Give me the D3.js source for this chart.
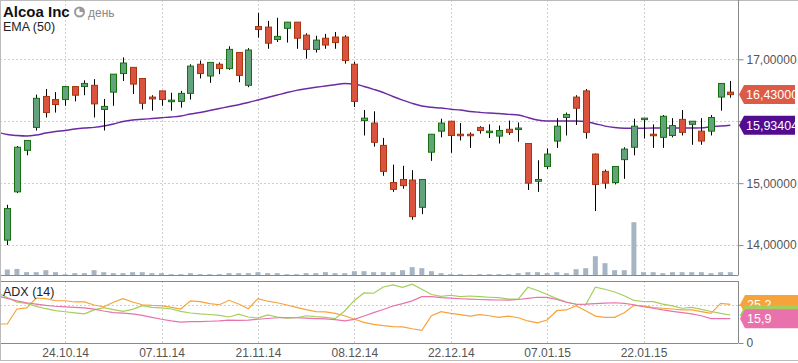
<!DOCTYPE html>
<html>
<head>
<meta charset="utf-8">
<script src="https://cdn.jsdelivr.net/npm/d3@7"></script>
<style>
  body { margin: 0; background: #fff; }
  svg { display: block; font-family: "Liberation Sans", Arial, sans-serif; }
</style>
</head>
<body>
<div id="chart"></div>
<script>
// x-axis labels (trading day index -> date)
const dayLabels = ["24.10.14", "07.11.14", "21.11.14", "08.12.14", "22.12.14", "07.01.15", "22.01.15"];
const dayLabelIdx = [6, 16, 26, 36, 46, 56, 66];

// daily candles, 16.10.14 .. 04.02.15
const open = [14.08,14.86,15.53,15.90,16.40,16.35,16.35,16.56,16.56,16.58,
  16.19,16.47,16.77,16.87,16.69,16.39,16.49,16.32,16.32,16.45,
  16.92,16.73,16.92,16.85,17.11,16.58,17.53,17.52,17.32,17.50,
  17.60,17.39,17.16,17.34,17.36,17.36,16.92,16.01,15.97,15.61,
  15.01,15.06,15.05,14.61,15.50,15.84,16.00,15.79,15.79,15.90,
  15.82,15.76,15.87,15.87,15.64,15.03,15.27,15.68,16.06,16.39,
  16.49,15.47,15.19,15.01,15.38,15.58,16.03,15.79,15.74,15.77,
  16.03,15.95,15.84,15.84,16.39,16.47];
const high = [14.65,15.60,15.69,16.43,16.52,16.47,16.56,16.56,16.66,16.68,
  16.36,16.76,17.03,16.87,16.69,16.42,16.49,16.46,16.49,16.92,
  16.98,16.95,16.95,17.21,17.11,17.18,17.75,17.62,17.67,17.60,
  17.60,17.42,17.38,17.41,17.44,17.39,16.96,16.18,16.16,15.73,
  15.30,15.28,15.21,15.06,15.79,16.04,16.00,15.97,15.82,15.92,
  15.95,15.93,16.01,15.98,15.64,15.37,15.56,16.05,16.14,16.42,
  16.52,15.48,15.22,15.27,15.58,16.04,16.05,15.95,16.10,16.05,
  16.18,16.00,16.05,16.10,16.61,16.65];
const low = [14.00,14.84,15.45,15.85,16.06,16.14,16.25,16.32,16.42,16.06,
  15.85,16.25,16.65,16.44,16.19,16.17,16.25,16.17,16.22,16.35,
  16.69,16.62,16.76,16.83,16.63,16.55,17.35,17.17,17.28,17.27,
  17.17,17.01,17.11,17.17,17.17,16.93,16.23,15.77,15.59,15.12,
  14.86,14.91,14.41,14.50,15.36,15.74,15.49,15.69,15.57,15.80,
  15.73,15.64,15.78,15.67,14.89,14.86,15.23,15.57,15.77,15.94,
  15.72,14.55,14.91,14.98,15.07,15.45,15.72,15.57,15.57,15.74,
  15.77,15.62,15.62,15.77,16.17,16.38];
const close = [14.59,15.58,15.69,16.37,16.14,16.27,16.56,16.42,16.61,16.28,
  16.24,16.76,16.94,16.60,16.29,16.36,16.35,16.34,16.45,16.89,
  16.77,16.95,16.85,17.16,16.74,17.15,17.48,17.26,17.37,17.60,
  17.34,17.16,17.31,17.23,17.27,16.98,16.32,16.05,15.66,15.19,
  14.90,14.96,14.46,15.06,15.79,15.97,15.77,15.77,15.77,15.85,
  15.84,15.85,15.82,15.89,15.00,15.06,15.47,15.92,16.11,16.21,
  15.82,14.98,15.00,15.27,15.55,15.92,16.05,15.77,16.08,15.93,
  15.82,16.00,15.68,16.06,16.61,16.43];
const volume = [15,16.5,8.3,8.3,13.3,8.3,3.3,5.8,5.8,13.3,
  8.3,5.8,5.8,8.3,8.3,5.8,5.8,3.3,3.3,5.8,
  3.3,3.3,3.3,5.8,5.8,5.8,8.3,5.8,5.8,3.3,
  3.3,5.8,5.8,8.3,5.8,5.8,10.8,10.8,8.3,8.3,
  8.3,13.3,20.8,18.3,10.8,5.8,3.3,3.3,2,3.3,
  3.3,3.3,3.3,5.8,8.3,8.3,5.8,8.3,5.8,15.8,
  18.3,48.3,30.8,13.3,13.3,133.3,8.3,8.3,5.8,8.3,
  8.3,8.3,8.3,5.8,8.3,8.3];

// indicator lines start one day earlier (15.10.14), cut at the left edge
const ema50 = [15.822, 15.785,15.769,15.761,15.777,15.809,15.834,15.85,15.874,15.89,15.901,
  15.922,15.955,15.995,16.019,16.031,16.044,16.057,16.068,16.084,16.116,
  16.141,16.173,16.205,16.237,16.267,16.302,16.342,16.383,16.423,16.464,
  16.499,16.525,16.548,16.569,16.59,16.609,16.601,16.561,16.515,16.464,
  16.399,16.342,16.289,16.246,16.225,16.213,16.194,16.181,16.158,16.144,
  16.132,16.124,16.111,16.10,16.06,16.019,16.003,16.003,16.003,16.003,
  15.995,15.96,15.922,15.898,15.887,15.886,15.887,15.89,15.89,15.89,
  15.89,15.89,15.893,15.91,15.922,15.93404];
const diPlus = [12.4, 12.4,22.2,22.9,29.4,29.0,27.6,27.6,26.8,26.8,24.8,
  23.7,26.6,29.0,26.8,25.0,24.6,24.4,23.3,22.2,27.5,
  27.0,25.7,25.0,27.9,25.5,22.4,29.0,27.3,26.3,24.8,
  23.3,21.8,20.5,20.3,19.4,17.8,15.5,13.5,12.2,11.3,
  10.7,10.5,9.3,8.3,17.8,20.5,19.4,18.5,17.6,18.5,
  17.8,16.8,17.6,16.5,14.4,13.1,15.0,21.1,21.6,24.4,
  21.1,17.6,16.8,16.8,19.8,24.6,24.2,23.1,22.7,22.2,
  21.6,21.6,20.5,19.4,25.9,25.2];
const diMinus = [32.7, 29.7,26.6,25.9,23.9,22.4,21.2,20.4,19.7,19.0,21.6,
  23.1,21.8,20.7,22.0,24.4,23.3,22.9,22.2,20.7,19.6,
  19.0,18.6,18.0,17.0,18.8,17.0,16.3,18.3,17.0,16.3,
  16.5,17.8,17.2,16.8,15.9,20.9,27.8,32.7,32.5,36.6,
  37.9,36.3,38.4,35.1,31.7,30.4,31.2,30.3,30.7,30.3,
  29.9,29.6,28.6,28.6,36.4,34.3,31.7,29.0,26.8,25.3,
  25.0,36.4,35.1,33.3,30.9,27.8,27.1,27.0,25.4,24.2,
  22.7,23.3,22.0,20.6,19.3,18.3];
const adx = [30.7, 29.1,27.5,26.3,25.4,24.6,24.0,23.6,23.3,22.9,22.1,
  20.9,19.9,19.5,19.0,18.0,16.7,15.5,14.5,13.7,13.9,
  13.9,14.2,14.4,15.0,14.8,14.9,15.5,16.0,16.5,16.5,
  16.5,16.2,15.9,15.7,15.3,14.4,15.4,17.6,19.8,21.9,
  24.2,25.7,27.5,30.3,30.3,29.7,29.3,28.9,28.6,28.4,
  28.2,28.1,28.0,28.4,29.2,29.9,29.8,28.4,26.6,25.3,
  25.4,25.7,26.1,26.3,25.9,25.0,23.7,22.7,21.6,20.7,
  19.8,19.0,17.8,15.9,15.9,15.9];

const priceTicks = [14, 15, 16, 17];
const adxTicks = [0, 25];
// tick labels that sit under the value tags are not shown
const hiddenPriceLabels = [16];
const hiddenAdxLabels = [25];

const width = 798;
const height = 363;
const plotRight = 738;
const main = { top: 0, bottom: 275.5 };
const sub = { top: 281, bottom: 343 };

const svg = d3.select("#chart").append("svg")
  .attr("width", width)
  .attr("height", height);

const x = d3.scaleLinear().domain([0, 75]).range([7.3, 730.3]);
const y = d3.scaleLinear().domain([14, 17]).range([245.1, 59.3]);
const yVol = d3.scaleLinear().domain([0, d3.max(volume)]).range([main.bottom, 222.2]);
const yAdx = d3.scaleLinear().domain([0, 40.5]).range([sub.bottom, sub.top]);

const comma = v => String(v).replace(".", ",");

// clip paths
const defs = svg.append("defs");
defs.append("clipPath").attr("id", "clipMain")
  .append("rect").attr("x", 0).attr("y", main.top).attr("width", plotRight).attr("height", main.bottom - main.top);
defs.append("clipPath").attr("id", "clipSub")
  .append("rect").attr("x", 0).attr("y", sub.top).attr("width", plotRight).attr("height", sub.bottom - sub.top);

// grid
const grid = svg.append("g").attr("stroke", "#cfcfcf").attr("stroke-dasharray", "2,2").attr("stroke-width", 1);
dayLabelIdx.forEach(i => {
  const gx = Math.round(x(i)) + 0.5;
  grid.append("line").attr("x1", gx).attr("x2", gx).attr("y1", main.top).attr("y2", main.bottom);
  grid.append("line").attr("x1", gx).attr("x2", gx).attr("y1", sub.top).attr("y2", sub.bottom);
});
priceTicks.forEach(p => {
  const gy = Math.round(y(p)) + 0.5;
  grid.append("line").attr("x1", 0).attr("x2", plotRight).attr("y1", gy).attr("y2", gy);
});
adxTicks.filter(v => v > 0).forEach(v => {
  const gy = Math.round(yAdx(v)) + 0.5;
  grid.append("line").attr("x1", 0).attr("x2", plotRight).attr("y1", gy).attr("y2", gy);
});

// volume
svg.append("g").selectAll("rect")
  .data(volume)
  .join("rect")
  .attr("x", (d, i) => x(i) - 2.5)
  .attr("y", d => yVol(d))
  .attr("width", 5)
  .attr("height", d => main.bottom - yVol(d))
  .attr("fill", "#a5b5c4");

// EMA line
const mainG = svg.append("g").attr("clip-path", "url(#clipMain)");
const emaLine = d3.line().x((d, i) => x(i - 1)).y(d => y(d)).curve(d3.curveMonotoneX);
mainG.append("path")
  .datum(ema50)
  .attr("fill", "none")
  .attr("stroke", "#6b2aa3")
  .attr("stroke-width", 1.4)
  .attr("d", emaLine);

// candles
const candles = d3.range(open.length).map(i => ({ i, o: open[i], h: high[i], l: low[i], c: close[i] }));
const cg = mainG.append("g");
cg.selectAll("line")
  .data(candles)
  .join("line")
  .attr("x1", d => Math.round(x(d.i)) + 0.5)
  .attr("x2", d => Math.round(x(d.i)) + 0.5)
  .attr("y1", d => y(d.h))
  .attr("y2", d => y(d.l))
  .attr("stroke", "#000")
  .attr("stroke-width", 1);
cg.selectAll("rect")
  .data(candles)
  .join("rect")
  .attr("x", d => Math.round(x(d.i)) - 2.5)
  .attr("y", d => y(Math.max(d.o, d.c)))
  .attr("width", 6)
  .attr("height", d => Math.max(Math.abs(y(d.o) - y(d.c)), 1.5))
  .attr("fill", d => d.c >= d.o ? "#62a27c" : "#d9533f")
  .attr("stroke", d => d.c >= d.o ? "#17700f" : "#a8360f")
  .attr("stroke-width", 1);

// ADX panel lines
const subG = svg.append("g").attr("clip-path", "url(#clipSub)");
const adxLine = d3.line().x((d, i) => x(i - 1)).y(d => yAdx(d));
[[diPlus, "#f7a33c"], [diMinus, "#a3cf5a"], [adx, "#e972ad"]].forEach(([series, col]) => {
  subG.append("path")
    .datum(series)
    .attr("fill", "none")
    .attr("stroke", col)
    .attr("stroke-width", 1.2)
    .attr("d", adxLine);
});

// frames
const frame = svg.append("g").attr("stroke", "#888").attr("stroke-width", 1).attr("fill", "none");
frame.append("line").attr("x1", 0).attr("x2", plotRight).attr("y1", main.bottom).attr("y2", main.bottom);
frame.append("line").attr("x1", 0).attr("x2", plotRight).attr("y1", sub.top + 0.5).attr("y2", sub.top + 0.5);
frame.append("line").attr("x1", 0).attr("x2", plotRight).attr("y1", sub.bottom + 0.5).attr("y2", sub.bottom + 0.5);
const outer = svg.append("g").attr("stroke", "#bbb").attr("stroke-width", 1);
outer.append("line").attr("x1", 0).attr("x2", width).attr("y1", 0.5).attr("y2", 0.5);
outer.append("line").attr("x1", 0.5).attr("x2", 0.5).attr("y1", 0).attr("y2", 361);
outer.append("line").attr("x1", 0).attr("x2", width).attr("y1", 360.5).attr("y2", 360.5);

// right axes
function styleAxis(g) {
  g.select(".domain").attr("stroke", "#888");
  g.selectAll(".tick line").attr("stroke", "#888");
  g.selectAll(".tick text").attr("fill", "#555").attr("font-size", "12px")
    .attr("font-family", "\"Liberation Sans\", Arial, sans-serif");
}
svg.append("g")
  .attr("transform", `translate(${plotRight + 0.5},0)`)
  .call(d3.axisRight(y).tickValues(priceTicks).tickSize(5).tickPadding(3)
    .tickFormat(d => hiddenPriceLabels.includes(d) ? "" : comma(d.toFixed(5))))
  .call(g => g.select(".domain").attr("d", `M0,${main.top}V${main.bottom}`))
  .call(styleAxis);
svg.append("g")
  .attr("transform", `translate(${plotRight + 0.5},0)`)
  .call(d3.axisRight(yAdx).tickValues(adxTicks).tickSize(5).tickPadding(3)
    .tickFormat(d => hiddenAdxLabels.includes(d) ? "" : d))
  .call(g => g.select(".domain").attr("d", `M0,${sub.top}V${sub.bottom}`))
  .call(styleAxis);

// date axis
svg.append("g")
  .attr("transform", `translate(0,${sub.bottom})`)
  .call(d3.axisBottom(x).tickValues(dayLabelIdx).tickSize(0).tickPadding(5)
    .tickFormat((d, k) => dayLabels[k]))
  .call(g => g.select(".domain").remove())
  .call(styleAxis);

// value tags on the right
function tag(cy, text, col, x0, w) {
  const g = svg.append("g");
  g.append("path")
    .attr("d", `M${x0},${cy} L${x0 + 5},${cy - 9.5} H${x0 + w} V${cy + 9.5} H${x0 + 5} Z`)
    .attr("fill", col);
  if (text) {
    g.append("text")
      .attr("x", x0 + 7)
      .attr("y", cy + 4.5)
      .attr("fill", "#fff")
      .attr("font-size", "12.5px")
      .text(text);
  }
}
const lastI = close.length - 1;
const lastL = ema50.length - 1;
tag(y(close[lastI]), comma(close[lastI].toFixed(5)), "#dd5a45", plotRight + 1, 56);
tag(y(ema50[lastL]), comma(ema50[lastL].toFixed(5)), "#520c8f", plotRight + 1, 56);
tag(yAdx(diPlus[lastL]), comma(diPlus[lastL].toFixed(1)), "#f7a33c", plotRight + 2, 60);
// the -DI tag is mostly covered by the ADX tag, its text is not visible
tag(yAdx(diMinus[lastL]), "", "#a3cf5a", plotRight + 2, 60);
tag(yAdx(adx[lastL]), comma(adx[lastL].toFixed(1)), "#e972ad", plotRight + 2, 60);

// titles
svg.append("text").attr("x", 3).attr("y", 17)
  .attr("font-size", "15px").attr("font-weight", "bold").attr("fill", "#111")
  .text("Alcoa Inc");
svg.append("text").attr("x", 3).attr("y", 31)
  .attr("font-size", "12.5px").attr("fill", "#222")
  .text("EMA (50)");
const clock = svg.append("g").attr("transform", "translate(79.5,12)");
clock.append("circle").attr("r", 4.5).attr("fill", "none").attr("stroke", "#999").attr("stroke-width", 2);
clock.append("path").attr("d", "M0,0 V-4.5 A4.5,4.5 0 0,1 4.5,0 Z").attr("fill", "#999");
svg.append("text").attr("x", 88).attr("y", 17)
  .attr("font-size", "12px").attr("fill", "#888")
  .text("день");
svg.append("text").attr("x", 3).attr("y", 296)
  .attr("font-size", "12.5px").attr("fill", "#222")
  .text("ADX (14)");
</script>
</body>
</html>
